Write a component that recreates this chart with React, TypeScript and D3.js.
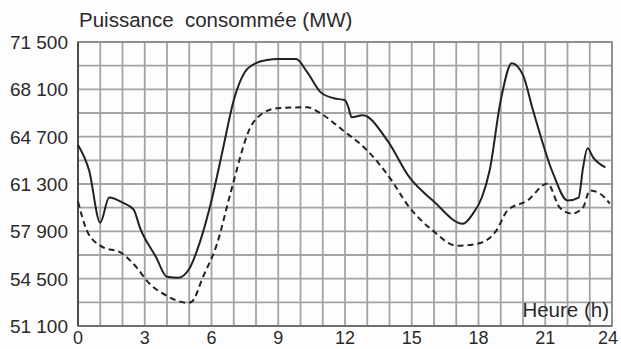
import React from "react";
import * as d3 from "d3";

const solidHours = [0, 0.5, 1.0, 1.4, 2.0, 2.5, 2.8, 3.5, 4.0, 4.5, 5.0, 5.5, 6.0, 6.5, 7.0, 7.5, 8.0, 8.5, 9.0, 9.8, 10.3, 10.9, 11.5, 12.0, 12.15, 12.3, 12.8, 13.9, 14.9, 15.95, 17.3, 17.75, 18.15, 18.5, 19.0, 19.5, 20.0, 20.45, 21.35, 22.0, 22.5, 22.7, 22.9, 23.15, 23.7];
const solidValues = [64100, 62270, 58520, 60330, 59970, 59460, 58090, 56070, 54630, 54560, 55210, 57230, 60110, 63710, 67320, 69340, 69980, 70200, 70270, 70270, 69340, 67900, 67460, 67320, 66810, 66090, 66240, 64430, 61770, 60110, 58450, 59170, 60330, 62270, 67320, 69980, 69120, 66600, 62060, 60110, 60330, 62490, 63860, 63210, 62490];

const dashedHours = [0, 0.4, 1.0, 2.0, 2.65, 3.1, 4.0, 4.95, 5.15, 5.6, 6.25, 6.85, 7.75, 8.3, 8.95, 10.3, 10.9, 11.9, 13.0, 14.0, 14.9, 15.95, 17.0, 17.95, 18.8, 19.3, 20.2, 21.1, 21.65, 22.2, 22.7, 23.0, 23.45, 23.9];
const dashedValues = [60040, 57950, 56870, 56290, 55280, 54340, 53260, 52760, 52900, 54560, 57010, 60620, 65370, 66380, 66740, 66810, 66380, 65160, 63710, 61770, 59610, 57950, 56870, 57010, 57950, 59390, 60110, 61340, 59610, 59170, 59610, 60830, 60620, 59890];

const xTicks = [0, 3, 6, 9, 12, 15, 18, 21, 24];
const yTicks = [51100, 54500, 57900, 61300, 64700, 68100, 71500];
const yTickLabels = ["51 100", "54 500", "57 900", "61 300", "64 700", "68 100", "71 500"];

const W = 621, H = 349;
const L = 78, R = 612, T = 42, B = 326;

export default function App() {
  const x = d3.scaleLinear().domain([0, 24]).range([L, R]);
  const y = d3.scaleLinear().domain([51100, 71500]).range([B, T]);
  const line = d3.line<[number, number]>().x(d => x(d[0])).y(d => y(d[1])).curve(d3.curveMonotoneX);
  const solid = line(solidHours.map((h, i) => [h, solidValues[i]] as [number, number])) || "";
  const dashed = line(dashedHours.map((h, i) => [h, dashedValues[i]] as [number, number])) || "";
  const vGrid = d3.range(0, 25, 1);
  const hGrid = d3.range(51100, 71500 + 1, 1700);
  const font = "'Liberation Sans', Arial, sans-serif";
  return (
    <svg width={W} height={H} style={{ position: "absolute", left: 0, top: 0, background: "#fdfdfd" }}>
      <rect x={0} y={0} width={W} height={H} fill="#fdfdfd" />
      {vGrid.map(h => (
        <line key={"v" + h} x1={x(h)} x2={x(h)} y1={T} y2={B} stroke="#a3a3a3" strokeWidth={1.8} />
      ))}
      {hGrid.map(v => (
        <line key={"h" + v} x1={L} x2={R} y1={y(v)} y2={y(v)} stroke="#a3a3a3" strokeWidth={1.8} />
      ))}
      <rect x={L} y={T} width={R - L} height={B - T} fill="none" stroke="#8a8a8a" strokeWidth={1.6} />
      <line x1={L} x2={L} y1={T} y2={B} stroke="#444" strokeWidth={1.8} />
      <line x1={L} x2={R} y1={B} y2={B} stroke="#666" strokeWidth={1.6} />
      <path d={dashed} fill="none" stroke="#222" strokeWidth={2} strokeDasharray="6,4" />
      <path d={solid} fill="none" stroke="#222" strokeWidth={2} />
      {yTicks.map((v, i) => (
        <text key={"yl" + v} x={68} y={y(v) + 7} textAnchor="end" fontFamily={font} fontSize={19} fill="#2a2a2a">{yTickLabels[i]}</text>
      ))}
      {xTicks.map(h => (
        <text key={"xl" + h} x={Math.min(x(h), 608)} y={344} textAnchor="middle" fontFamily={font} fontSize={18} fill="#2a2a2a">{h}</text>
      ))}
      <text x={79} y={27} fontFamily={font} fontSize={20.5} fill="#2a2a2a" style={{ whiteSpace: "pre" }}>{"Puissance  consommée (MW)"}</text>
      <text x={609} y={317} textAnchor="end" fontFamily={font} fontSize={20.5} fill="#2a2a2a">Heure (h)</text>
    </svg>
  );
}
